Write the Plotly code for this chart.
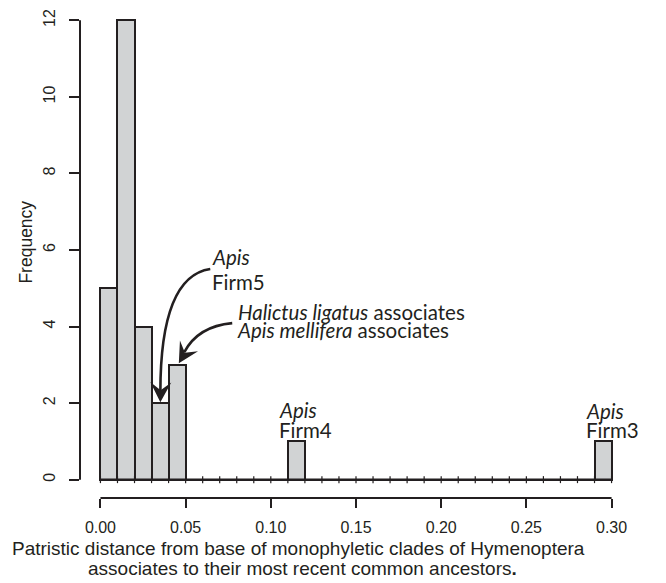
import math
import plotly.graph_objects as go

# ---------------- data ----------------
bin_start = 0.0
bin_width = 0.01
counts = [5, 12, 4, 2, 3, 0, 0, 0, 0, 0,
          0, 1, 0, 0, 0, 0, 0, 0, 0, 0,
          0, 0, 0, 0, 0, 0, 0, 0, 0, 1]
x_ticks = [0.00, 0.05, 0.10, 0.15, 0.20, 0.25, 0.30]
x_tick_labels = ["0.00", "0.05", "0.10", "0.15", "0.20", "0.25", "0.30"]
y_ticks = [0, 2, 4, 6, 8, 10, 12]
y_tick_labels = ["0", "2", "4", "6", "8", "10", "12"]

edges = [round(bin_start + i * bin_width, 4) for i in range(len(counts) + 1)]
centers = [(edges[i] + edges[i + 1]) / 2 for i in range(len(counts))]

# ---------------- layout geometry ----------------
W, H = 666, 583
L_M, R_M, T_M, B_M = 79.5, 33.5, 2.4, 85.4
X_RANGE = [x_ticks[0] - 0.04 * (x_ticks[-1] - x_ticks[0]), x_ticks[-1] + 0.04 * (x_ticks[-1] - x_ticks[0])]
Y_RANGE = [y_ticks[0] - 0.04 * (y_ticks[-1] - y_ticks[0]), y_ticks[-1] + 0.04 * (y_ticks[-1] - y_ticks[0])]
PW = W - L_M - R_M
PH = H - T_M - B_M


def dx(px):
    return X_RANGE[0] + (px - L_M) / PW * (X_RANGE[1] - X_RANGE[0])


def dy(py):
    return Y_RANGE[0] + (H - B_M - py) / PH * (Y_RANGE[1] - Y_RANGE[0])


def pxp(px):
    return (px - L_M) / PW


def pyp(py):
    return (H - B_M - py) / PH


INK = "#231f20"
FILL = "#d1d3d4"

fig = go.Figure()
fig.add_trace(go.Bar(
    x=centers, y=counts, width=bin_width,
    marker=dict(color=FILL, line=dict(color=INK, width=2)),
    showlegend=False, hoverinfo="skip",
))
# zero-height bins drawn as flat rectangles along the baseline
fig.add_trace(go.Scatter(
    x=edges, y=[0] * len(edges), mode="lines+markers",
    line=dict(color=INK, width=2.2),
    marker=dict(symbol="line-ns-open", size=5, line=dict(color=INK, width=1.2)),
    showlegend=False, hoverinfo="skip",
))

shapes = []
# R style axis lines spanning only the tick range
shapes.append(dict(type="line", xref="paper", yref="y", x0=0, x1=0,
                   y0=y_ticks[0], y1=y_ticks[-1], line=dict(color=INK, width=2)))
shapes.append(dict(type="line", xref="x", yref="paper", x0=x_ticks[0], x1=x_ticks[-1],
                   y0=0, y1=0, line=dict(color=INK, width=2)))


def curve(p0, p1, p2, p3):
    pts = [p0, p1, p2, p3]
    d = [f"{dx(p[0]):.6f},{dy(p[1]):.6f}" for p in pts]
    return dict(type="path", xref="x", yref="y",
                path=f"M {d[0]} C {d[1]} {d[2]} {d[3]}",
                line=dict(color=INK, width=2.6))


def head(tip, direction, L=20, Wd=21, k=0.6):
    ddx, ddy = direction
    n = math.hypot(ddx, ddy)
    ux, uy = ddx / n, -ddy / n  # pixel path: +y is up
    nx, ny = -uy, ux
    pts = [(0, 0),
           (-L * ux + Wd / 2 * nx, -L * uy + Wd / 2 * ny),
           (-k * L * ux, -k * L * uy),
           (-L * ux - Wd / 2 * nx, -L * uy - Wd / 2 * ny)]
    path = "M " + " L ".join(f"{p[0]:.2f},{p[1]:.2f}" for p in pts) + " Z"
    return dict(type="path", xref="x", yref="y", xsizemode="pixel", ysizemode="pixel",
                xanchor=dx(tip[0]), yanchor=dy(tip[1]), path=path,
                fillcolor=INK, line=dict(width=0))


shapes.append(curve((210, 269), (176, 274), (160, 318), (160, 392)))
shapes.append(head((160, 402), (-1.0, 45)))
shapes.append(curve((232, 323), (210, 325), (193, 335), (184, 352)))
shapes.append(head((178.5, 363), (-13.4, 22.7)))

ANN_FONT = dict(family="Lato", size=20.5, color=INK)
annotations = []


def txt(text, left_px, cy_px, font=ANN_FONT):
    annotations.append(dict(text=text, xref="paper", yref="paper", x=pxp(left_px), y=pyp(cy_px),
                            xanchor="left", yanchor="middle", showarrow=False, font=font,
                            borderpad=0))


txt("<i>Apis</i>", 211, 257)
txt("Firm5", 211, 282)
txt("<i>Halictus ligatus</i> associates", 237, 311.5)
txt("<i>Apis mellifera</i> associates", 236, 330)
txt("<i>Apis</i>", 278, 410)
txt("Firm4", 278, 430)
txt("<i>Apis</i>", 585, 411)
txt("Firm3", 585, 430)

TITLE_FONT = dict(family="Liberation Sans, Arial", size=19, color=INK)
annotations.append(dict(text="Patristic distance from base of monophyletic clades of Hymenoptera",
                        xref="paper", yref="paper", x=pxp(298), y=pyp(548), xanchor="center",
                        yanchor="middle", showarrow=False, font=TITLE_FONT))
annotations.append(dict(text="associates to their most recent common ancestors<b>.</b>",
                        xref="paper", yref="paper", x=pxp(302.5), y=pyp(568), xanchor="center",
                        yanchor="middle", showarrow=False, font=TITLE_FONT))
annotations.append(dict(text="Frequency", xref="paper", yref="paper", x=pxp(25), y=pyp(242),
                        xanchor="center", yanchor="middle", textangle=-90, showarrow=False,
                        font=dict(family="Liberation Sans, Arial", size=17.5, color=INK)))

TICK_FONT = dict(family="Liberation Sans, Arial", size=16, color=INK)
fig.update_layout(
    width=W, height=H,
    margin=dict(l=L_M, r=R_M, t=T_M, b=B_M, pad=0),
    paper_bgcolor="white", plot_bgcolor="white",
    bargap=0,
    xaxis=dict(range=X_RANGE, tickvals=x_ticks, ticktext=x_tick_labels, ticks="outside",
               ticklen=9, tickwidth=2, tickcolor=INK, showline=False, showgrid=False,
               zeroline=False, tickfont=TICK_FONT, ticklabelstandoff=6),
    yaxis=dict(range=Y_RANGE, tickvals=y_ticks, ticktext=y_tick_labels, ticks="outside",
               ticklen=10, tickwidth=2, tickcolor=INK, showline=False, showgrid=False,
               zeroline=False, tickfont=TICK_FONT, tickangle=-90, ticklabelstandoff=8),
    shapes=shapes,
    annotations=annotations,
)

fig.write_html("out.html",
               config={"displayModeBar": False},
               post_script="document.body.style.margin='0';document.body.style.overflow='hidden';")
